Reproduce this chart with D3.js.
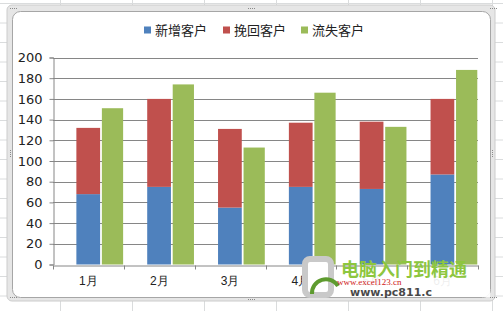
<!DOCTYPE html>
<html>
<head>
<meta charset="utf-8">
<script src="https://cdn.jsdelivr.net/npm/d3@7"></script>
<style>
  body { margin: 0; background: #fff; }
  svg { display: block; font-family: "Noto Sans CJK SC", "DejaVu Sans", sans-serif; }
</style>
</head>
<body>
<svg id="chart" width="503" height="311"></svg>
<script>
// data
const months = ["1月", "2月", "3月", "4月", "5月", "6月"];
const seriesNames = ["新增客户", "挽回客户", "流失客户"];
const newCustomers = [68, 75, 55, 75, 73, 87];
const wonBack = [64, 85, 76, 62, 65, 73];
const lostCustomers = [151, 174, 113, 166, 133, 188];
const yTicks = [0, 20, 40, 60, 80, 100, 120, 140, 160, 180, 200];

const colors = ["#4f81bd", "#c0504d", "#9bbb59"];

const svg = d3.select("#chart");

// spreadsheet grid behind the chart object
const sheet = svg.append("g");
d3.range(0, 8).forEach(i => {
    sheet.append("line")
        .attr("x1", 60.5 + i * 72).attr("x2", 60.5 + i * 72)
        .attr("y1", 0).attr("y2", 311)
        .attr("stroke", "#dadcdd");
});
d3.range(0, 17).forEach(i => {
    sheet.append("line")
        .attr("x1", 0).attr("x2", 503)
        .attr("y1", 3.5 + i * 19.5).attr("y2", 3.5 + i * 19.5)
        .attr("stroke", "#dadcdd");
});

// chart frame
svg.append("rect")
    .attr("x", 7).attr("y", 5).attr("width", 488).attr("height", 296)
    .attr("rx", 5).attr("fill", "#e6e6e6").attr("stroke", "#cccccc");
svg.append("rect")
    .attr("x", 12.5).attr("y", 11.5).attr("width", 478).attr("height", 286)
    .attr("rx", 8).attr("fill", "#fff").attr("stroke", "#a6a6a6");

// little grip dots
const grips = [[248, 8, "h"], [10, 150, "v"], [492, 150, "v"], [248, 299, "h"], [10, 8, "h"], [490, 8, "h"], [10, 297, "h"], [490, 297, "h"]];
grips.forEach(g => {
    d3.range(4).forEach(k => {
        svg.append("rect")
            .attr("x", g[2] === "h" ? g[0] + k * 2 : g[0])
            .attr("y", g[2] === "h" ? g[1] : g[1] + k * 2)
            .attr("width", 1).attr("height", 1)
            .attr("fill", "#8a8a8a");
    });
});

const plotLeft = 53, plotRight = 478;
const y = d3.scaleLinear().domain([0, 200]).range([264.5, 57.5]);
const x = d3.scaleBand().domain(months).range([plotLeft, plotRight]).padding(0);
const bw = x.bandwidth();

// gridlines
svg.append("g")
    .selectAll("line")
    .data(yTicks.filter(d => d > 0))
    .join("line")
    .attr("x1", plotLeft).attr("x2", plotRight)
    .attr("y1", d => Math.round(y(d)) + 0.5).attr("y2", d => Math.round(y(d)) + 0.5)
    .attr("stroke", "#868686");

// y axis
const yAxis = svg.append("g")
    .attr("transform", `translate(${plotLeft + 0.5},0)`)
    .call(d3.axisLeft(y).tickValues(yTicks).tickSize(4).tickPadding(7));
yAxis.select(".domain").attr("stroke", "#868686");
yAxis.selectAll(".tick line").attr("stroke", "#868686");
yAxis.selectAll(".tick text")
    .attr("font-size", 13).attr("fill", "#222")
    .attr("font-family", "'DejaVu Sans', sans-serif");

// stacked bars
const stack = d3.stack().keys([0, 1])(months.map((m, i) => ({ 0: newCustomers[i], 1: wonBack[i], m: m })));
stack.forEach((layer, li) => {
    svg.append("g")
        .selectAll("rect")
        .data(layer)
        .join("rect")
        .attr("x", d => x(d.data.m) + bw * 0.33)
        .attr("width", bw * 0.335)
        .attr("y", d => y(d[1]))
        .attr("height", d => y(d[0]) - y(d[1]))
        .attr("fill", colors[li]);
});

// lost customers beside
svg.append("g")
    .selectAll("rect")
    .data(lostCustomers)
    .join("rect")
    .attr("x", (d, i) => x(months[i]) + bw * 0.69)
    .attr("width", bw * 0.30)
    .attr("y", d => y(d))
    .attr("height", d => y(0) - y(d))
    .attr("fill", colors[2]);

// x axis
const xAxis = svg.append("g")
    .attr("transform", `translate(0,${Math.round(y(0)) + 0.5})`)
    .call(d3.axisBottom(x).tickSize(0).tickPadding(11));
xAxis.select(".domain").attr("stroke", "#868686");
xAxis.selectAll(".tick text")
    .attr("font-size", 12).attr("fill", "#222");
xAxis.selectAll(".sep")
    .data(d3.range(0, months.length + 1))
    .join("line")
    .attr("class", "sep")
    .attr("x1", i => Math.round(plotLeft + i * bw) + 0.5)
    .attr("x2", i => Math.round(plotLeft + i * bw) + 0.5)
    .attr("y1", 0).attr("y2", 4)
    .attr("stroke", "#868686");

// legend
const legendX = [144, 223, 301];
const legend = svg.append("g");
seriesNames.forEach((name, i) => {
    legend.append("rect")
        .attr("x", legendX[i]).attr("y", 26.5)
        .attr("width", 7).attr("height", 7)
        .attr("fill", colors[i]);
    legend.append("text")
        .attr("x", legendX[i] + 11).attr("y", 35)
        .attr("font-size", 13).attr("fill", "#222")
        .text(name);
});

// watermark overlay (covers the last month labels, as in the screenshot)
const wm = svg.append("g");
wm.append("rect")
    .attr("x", 304).attr("y", 270).attr("width", 186).attr("height", 27)
    .attr("fill", "#fff").attr("opacity", 0.92);
wm.append("rect")
    .attr("x", 305).attr("y", 259).attr("width", 26).attr("height", 36)
    .attr("rx", 5).attr("fill", "#fff")
    .attr("stroke", "#c9c9c9").attr("stroke-width", 6);
wm.append("path")
    .attr("d", "M312,294 A14,14 0 0 1 338,286")
    .attr("fill", "none").attr("stroke", "#5e9b2f").attr("stroke-width", 4);
wm.append("text")
    .attr("x", 341).attr("y", 276)
    .attr("font-size", 18).attr("font-weight", "bold")
    .attr("fill", "#8dc63f")
    .text("电脑入门到精通");
wm.append("text")
    .attr("x", 337).attr("y", 285)
    .attr("font-size", 9).attr("fill", "#d02020")
    .attr("font-family", "'Liberation Serif', serif")
    .text("www.excel123.cn");
wm.append("text")
    .attr("x", 350).attr("y", 296)
    .attr("font-size", 11).attr("font-weight", "bold")
    .attr("fill", "#1a1a1a").attr("opacity", 0.8)
    .attr("font-family", "'DejaVu Sans', sans-serif")
    .text("www.pc811.c");
</script>
</body>
</html>
